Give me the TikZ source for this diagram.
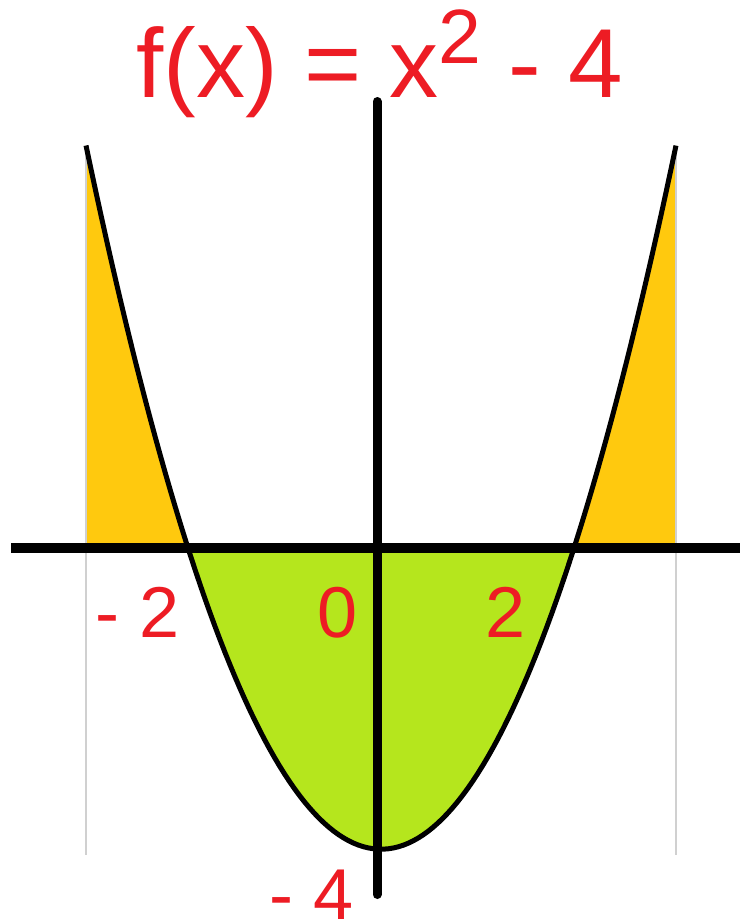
\documentclass[tikz,border=0pt]{standalone}
\usepackage{fontspec}
\setmainfont{Liberation Sans}
\definecolor{plotred}{HTML}{ED1C24}
\definecolor{gold}{HTML}{FFC90E}
\definecolor{lime}{HTML}{B5E61D}
\definecolor{guide}{HTML}{D0D0D0}
\tikzset{
  lbl/.style={text=plotred, inner sep=0pt, anchor=base west, text depth=0pt, font=\fontsize{72}{74}\selectfont},
  axisline/.style={line width=10pt, black},
  curveline/.style={line width=5pt, black, line join=round},
  guideline/.style={line width=2pt, guide},
}
\begin{document}
\begin{tikzpicture}[x=1pt,y=-1pt]
\useasboundingbox (0,0) rectangle (740,924);
% fills
\fill[gold] (86,548) -- plot[domain=-3.057:-2, samples=40] ({381+96.5*\x},{548-75.3*(\x*\x-4)}) -- cycle;
\fill[gold] (676,548) -- plot[domain=3.057:2, samples=40] ({381+96.5*\x},{548-75.3*(\x*\x-4)}) -- cycle;
\fill[lime] plot[domain=-2:2, samples=80] ({381+96.5*\x},{548-75.3*(\x*\x-4)}) -- cycle;
% guide lines
\coordinate (gl1) at (86,146);
\coordinate (gl2) at (86,855);
\coordinate (gr1) at (676,146);
\coordinate (gr2) at (676,855);
\draw[guideline] (gl1) -- (gl2);
\draw[guideline] (gr1) -- (gr2);
% curve
\draw[curveline] plot[domain=-3.057:3.057, samples=120] ({381+96.5*\x},{548-75.3*(\x*\x-4)});
% axes
\coordinate (xl) at (11,548);
\coordinate (xr) at (740,548);
\coordinate (yt) at (377,101.5);
\coordinate (yb) at (377,894.5);
\draw[axisline, line cap=butt] (xl) -- (xr);
\draw[axisline, line width=9pt, line cap=round] (yt) -- (yb);
% title
\node[text=plotred, inner sep=0pt, anchor=base west, font=\fontsize{98}{100}\selectfont] (title) at (136,97)
  {f(x) = x\raisebox{34pt}{\fontsize{77}{77}\selectfont 2} - 4};
% labels
\node[lbl] (lm2) at (95,637) {- 2};
\node[lbl] (l0) at (317,637) {0};
\node[lbl] (l2) at (485,637) {2};
\node[lbl] (lm4) at (269,919) {- 4};
\end{tikzpicture}
\end{document}
